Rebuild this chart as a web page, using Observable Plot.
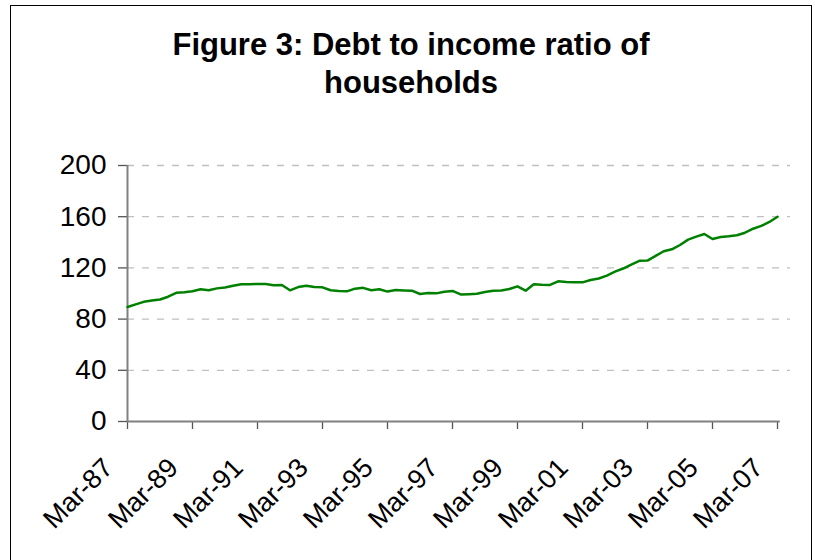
<!DOCTYPE html>
<html><head><meta charset="utf-8">
<script src="https://cdn.jsdelivr.net/npm/d3@7"></script>
<script src="https://cdn.jsdelivr.net/npm/@observablehq/plot@0.6"></script>
<style>
body{margin:0;background:#fff;}
#wrap{position:relative;width:815px;height:560px;overflow:hidden;font-family:"Liberation Sans",Arial,sans-serif;background:#fff;}
#frame{position:absolute;left:10px;top:5px;width:802px;height:600px;border:1.5px solid #000;box-sizing:border-box;}
#title{position:absolute;left:11px;width:800px;top:26px;text-align:center;font-weight:bold;font-size:31px;line-height:38px;color:#000;}
#chart{position:absolute;left:0;top:0;}
</style></head>
<body>
<div id="wrap">
  <div id="frame"></div>
  <div id="chart"></div>
  <div id="title">Figure 3: Debt to income ratio of<br>households</div>
</div>
<script>
// Quarterly debt-to-income ratio, Mar-87 ... Mar-07 (81 quarters)
const values = [
  89.5, 91.5, 93.5, 94.5, 95.3, 97.5, 100.5, 101, 101.7, 103.3,
  102.6, 104, 104.7, 106, 107.2, 107.3, 107.4, 107.4, 106.5, 106.7,
  102.5, 105, 106, 105, 104.8, 102.5, 102, 101.7, 103.8, 104.4,
  102.5, 103.3, 101.5, 102.7, 102.4, 102.2, 99.6, 100.4, 100.1, 101.4,
  102, 99.3, 99.5, 99.8, 101.2, 102.2, 102.3, 103.5, 105.6, 102.2,
  107.2, 106.8, 106.7, 109.5, 109, 108.8, 108.7, 110.6, 111.7, 114,
  117.1, 119.5, 122.6, 125.5, 125.7, 129.4, 133, 134.5, 137.9, 142.1,
  144.4, 146.5, 142.6, 144.2, 144.7, 145.5, 147.5, 150.6, 152.8, 155.9,
  160
];
const quarterIndex = values.map((_, i) => i);
const tickIndex = [0, 8, 16, 24, 32, 40, 48, 56, 64, 72, 80];
const tickLabels = ["Mar-87","Mar-89","Mar-91","Mar-93","Mar-95","Mar-97","Mar-99","Mar-01","Mar-03","Mar-05","Mar-07"];
const yTicks = [0, 40, 80, 120, 160, 200];

const data = quarterIndex.map((q, i) => ({q, v: values[i]}));
const xEnd = 81.6;
const lastQ = quarterIndex[quarterIndex.length - 1];

const chart = Plot.plot({
  width: 815, height: 560,
  marginLeft: 127, marginRight: 25, marginTop: 165, marginBottom: 139,
  x: {domain: [0, xEnd]},
  y: {domain: [0, 200]},
  style: {fontFamily: "'Liberation Sans', Arial, sans-serif", color: "#000", background: "transparent", overflow: "visible"},
  marks: [
    Plot.ruleY(yTicks.slice(1), {x1: 0, x2: xEnd, stroke: "#c0c0c0", strokeWidth: 1.3, strokeDasharray: "7,8"}),
    Plot.axisY({ticks: yTicks, tickSize: 9, tickPadding: 12, fontSize: 28, label: null, stroke: "#555", strokeWidth: 1.3}),
    Plot.axisX({ticks: tickIndex, tickFormat: null, text: null, tickSize: 8, label: null, stroke: "#555", strokeWidth: 1.3}),
    Plot.axisX({ticks: tickIndex, tickFormat: d => tickLabels[tickIndex.indexOf(d)], tickSize: 0, tickRotate: -45, fontSize: 27, label: null, dx: -19, dy: 30}),
    Plot.ruleX([0], {y1: 0, y2: 200, stroke: "#808080", strokeWidth: 2}),
    Plot.ruleY([0], {x1: 0, x2: lastQ + 0.35, stroke: "#808080", strokeWidth: 2}),
    Plot.line(data, {x: "q", y: "v", stroke: "#008000", strokeWidth: 2.5})
  ]
});
document.getElementById("chart").appendChild(chart);
</script>
</body></html>
